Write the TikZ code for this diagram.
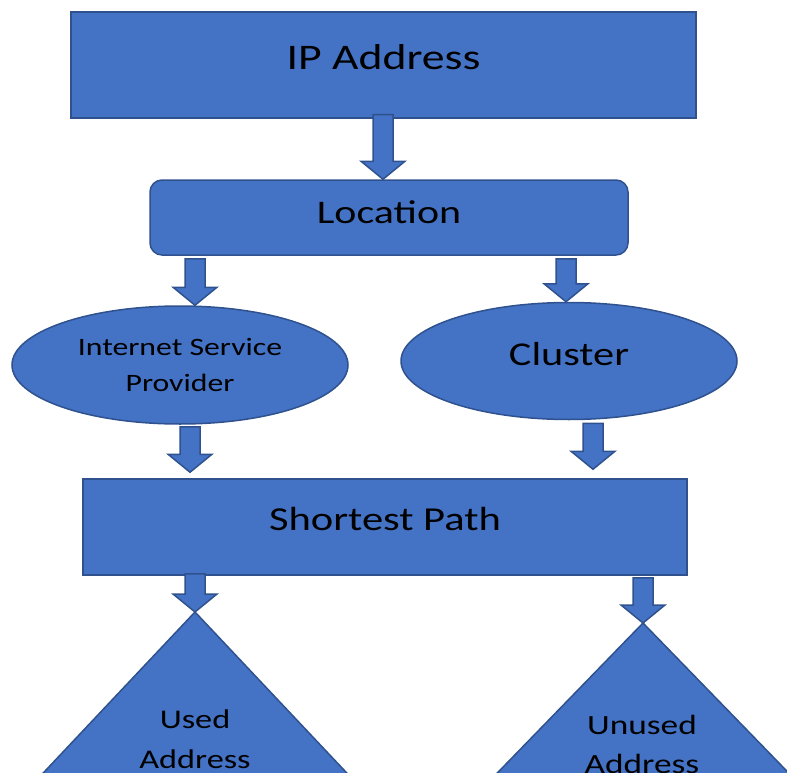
\documentclass[tikz,border=0pt]{standalone}
\usepackage{fontspec}
\setmainfont{Carlito}[FakeStretch=1.27]
\usetikzlibrary{shapes,calc}

\definecolor{boxblue}{RGB}{68,114,196}
\definecolor{boxline}{RGB}{47,82,143}

\tikzset{
  bluebox/.style={draw=boxline,fill=boxblue,line width=1.5pt,inner sep=0pt,text=black},
  plainbox/.style={bluebox,rectangle},
  blueoval/.style={bluebox,ellipse,align=center},
  lbl/.style={align=center,inner sep=0pt,text=black},
  blockarr/.style={draw=boxline,fill=boxblue,line width=1.5pt,line join=miter}
}

% block arrow: shaft starts at the height of #1, tip at #2
\newcommand\blockarrow[2]{%
\draw[blockarr] let \p1=(#1), \p2=(#2) in
  (\x2-10pt,\y1) -- (\x2-10pt,\y2+18pt) -- (\x2-22pt,\y2+18pt) -- (\x2,\y2)
  -- (\x2+22pt,\y2+18pt) -- (\x2+10pt,\y2+18pt) -- (\x2+10pt,\y1) -- cycle;}

\begin{document}
\begin{tikzpicture}[x=1pt,y=-1pt]
\useasboundingbox (0,0) rectangle (787,773);
\clip (0,0) rectangle (787,773);

\node[plainbox,minimum width=625,minimum height=106,text height=27pt,text depth=17pt,font=\fontsize{36}{43}\selectfont] (ip) at (383.5,65) {IP Address};
\node[plainbox,rounded corners=12pt,minimum width=478,minimum height=75,text height=25pt,text depth=13.4pt,font=\fontsize{33}{40}\selectfont] (loc) at (389,217.5) {Location};

\node[blueoval,minimum width=336,minimum height=118,font=\fontsize{25}{35.5}\selectfont] (isp) at (180,365) {Internet Service\\Provider};
\node[blueoval,minimum width=336,minimum height=117,text height=25pt,text depth=15.6pt,font=\fontsize{33.3}{40}\selectfont] (cluster) at (569,361) {Cluster};

\node[plainbox,minimum width=604,minimum height=96,text height=25pt,text depth=17.6pt,font=\fontsize{33.5}{40}\selectfont] (sp) at (385,527) {Shortest Path};

\coordinate (usedtop) at (195,612);
\coordinate (unusedtop) at (643,623);
\draw[bluebox] (usedtop) -- ++(-330,350) -- ++(660,0) -- cycle;
\draw[bluebox] (unusedtop) -- ++(-340,350) -- ++(680,0) -- cycle;
\node[lbl,font=\fontsize{27}{39.7}\selectfont] (used) at (195,739) {Used\\Address};
\node[lbl,font=\fontsize{27.8}{39.7}\selectfont] (unused) at (642,744.5) {Unused\\Address};

\blockarrow{[yshift=4pt]ip.south}{[xshift=-6pt]loc.north}
\blockarrow{[yshift=-3pt]loc.south}{[xshift=15pt]isp.north}
\blockarrow{[yshift=-3pt]loc.south}{[xshift=-3pt]cluster.north}
\blockarrow{[yshift=-2pt]isp.south}{$(sp.north -| isp.south)+(10,-6)$}
\blockarrow{[yshift=-3pt]cluster.south}{$(sp.north -| cluster.south)+(24,-9)$}
\blockarrow{[yshift=2pt]sp.south}{usedtop}
\blockarrow{[yshift=-2pt]sp.south}{unusedtop}
\end{tikzpicture}
\end{document}
